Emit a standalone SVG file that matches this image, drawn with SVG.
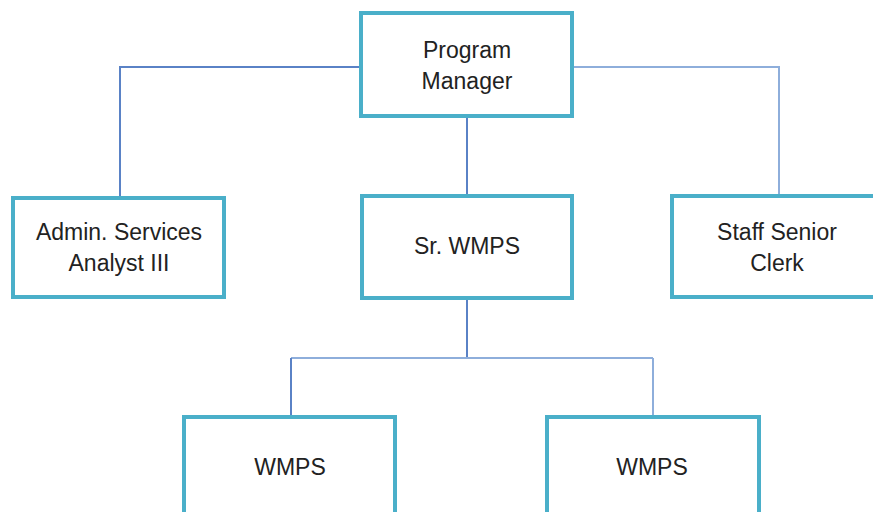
<svg xmlns="http://www.w3.org/2000/svg" width="873" height="512" viewBox="0 0 873 512">
<style>
.box{fill:#fff;stroke:#4aafc9;stroke-width:4}
.lbl{font-family:"Liberation Sans",Arial,sans-serif;font-size:23px;fill:#222;text-anchor:middle}
.conn{fill:none;stroke:#5a82c6;stroke-width:2}
.conn2{fill:none;stroke:#8eaedb;stroke-width:2}
</style>
<rect width="873" height="512" fill="#fff"/>
<g id="connectors">
<path class="conn" d="M361 67 H120 V198"/>
<path class="conn2" d="M572 67 H779 V196"/>
<path class="conn" d="M467 117 V196"/>
<path class="conn" d="M467 298 V358"/>
<path class="conn2" d="M291 358 H653"/>
<path class="conn" d="M291 358 V417"/>
<path class="conn2" d="M653 358 V417"/>
</g>
<g id="program-manager">
<rect class="box" x="361" y="13" width="211" height="103"/>
<text class="lbl" x="467" y="58">Program</text>
<text class="lbl" x="467" y="89">Manager</text>
</g>
<g id="admin-services">
<rect class="box" x="13" y="198" width="211" height="99"/>
<text class="lbl" x="119" y="240">Admin. Services</text>
<text class="lbl" x="119" y="271">Analyst III</text>
</g>
<g id="sr-wmps">
<rect class="box" x="362" y="196" width="210" height="102"/>
<text class="lbl" x="467" y="254">Sr. WMPS</text>
</g>
<g id="staff-senior-clerk">
<rect class="box" x="672" y="196" width="214" height="101"/>
<text class="lbl" x="777" y="240">Staff Senior</text>
<text class="lbl" x="777" y="271">Clerk</text>
</g>
<g id="wmps-1">
<rect class="box" x="184" y="417" width="211" height="110"/>
<text class="lbl" x="290" y="475">WMPS</text>
</g>
<g id="wmps-2">
<rect class="box" x="547" y="417" width="212" height="110"/>
<text class="lbl" x="652" y="475">WMPS</text>
</g>
</svg>
